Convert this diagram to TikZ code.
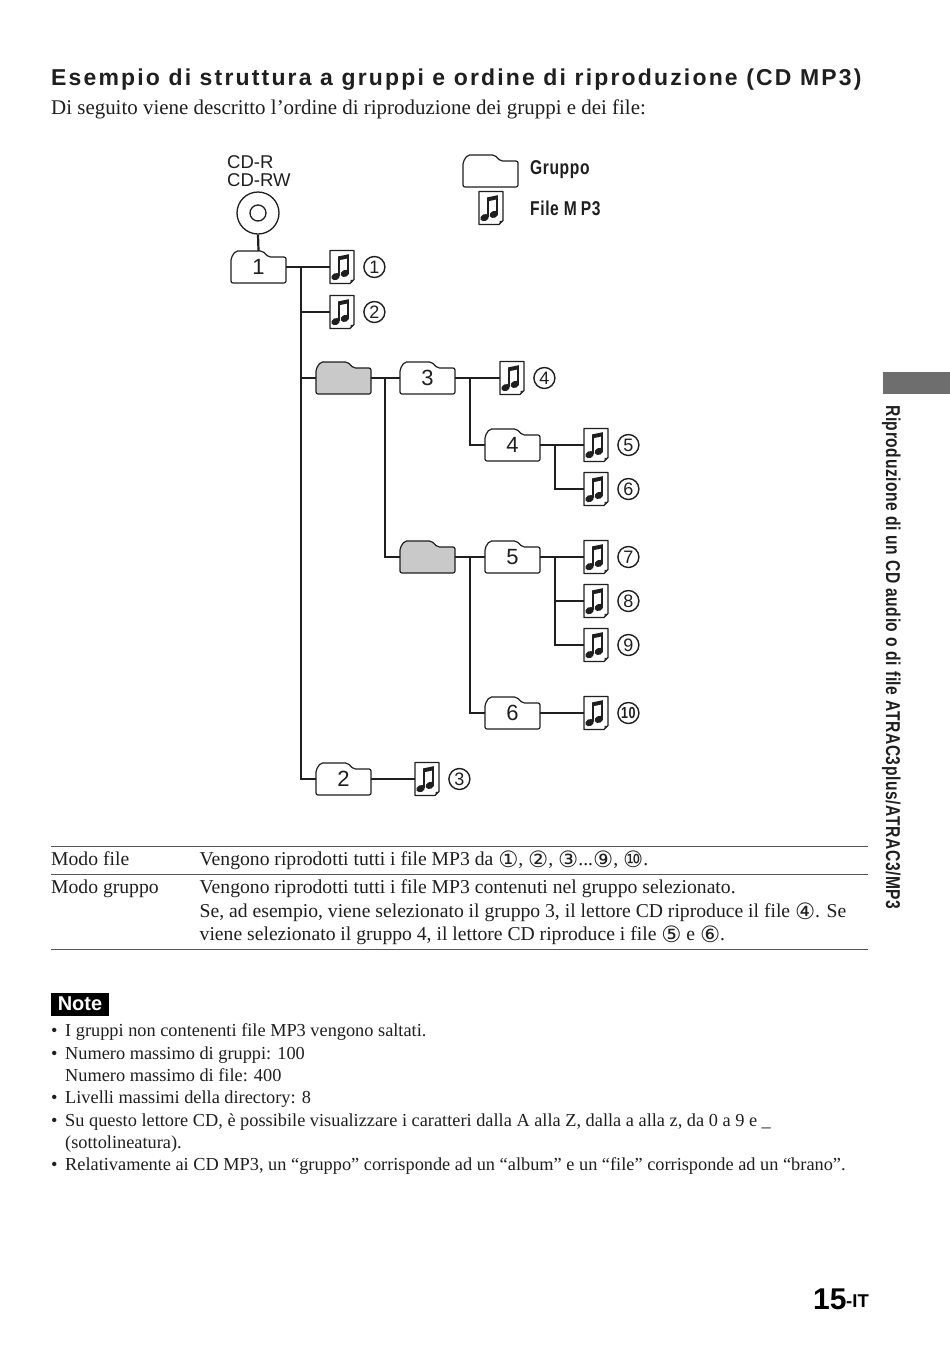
\documentclass[tikz,border=0pt]{standalone}
\usepackage{fontspec}
\setmainfont{Liberation Serif}
\setsansfont{Liberation Sans}
\newfontfamily\circfont{DejaVu Sans}
\newfontfamily\headfont[LetterSpace=9.5]{Liberation Sans Bold}
\newfontfamily\narrowfont[FakeStretch=0.78,LetterSpace=3]{Liberation Sans Bold}
\usetikzlibrary{positioning,calc}
\definecolor{Ink}{HTML}{1F1F1F}
\definecolor{FolderGrey}{HTML}{C9C9C9}
\definecolor{TabGrey}{HTML}{6E6E6E}
\definecolor{RuleGrey}{HTML}{555555}
\newcommand{\Cn}[1]{{\circfont\fontsize{22.5}{24}\selectfont\raisebox{-2.4pt}{#1}}}
\tikzset{
  wire/.style={draw=Ink,line width=2.2pt},
  folderbox/.style={inner sep=0pt,minimum width=55pt,minimum height=32pt,font=\fontsize{22}{24}\selectfont\sffamily,text=Ink},
  filebox/.style={inner sep=0pt,minimum width=24pt,minimum height=33pt},
  numbadge/.style={circle,draw=Ink,line width=1.4pt,inner sep=0pt,minimum size=21pt,font=\fontsize{18}{20}\selectfont\sffamily,text=Ink},
  bodytext/.style={anchor=base west,inner sep=0pt,font=\fontsize{19.65}{24}\selectfont,text=Ink},
  notetext/.style={anchor=base west,inner sep=0pt,font=\fontsize{18.32}{22}\selectfont,text=Ink},
  legendtext/.style={anchor=base west,inner sep=0pt,font=\fontsize{20}{24}\selectfont\narrowfont,text=Ink},
  tablerule/.style={draw=RuleGrey,line width=1pt}
}
\newcommand{\FolderIcon}[5]{%
  \draw[Ink,line width=1.2pt,fill=#5,rounded corners=2pt] (#2-27.5,#3+16) -- (#2-27.5,#3-9) -- (#2-23,#3-16) -- (#2+4,#3-16) -- (#2+10,#3-10) -- (#2+27.5,#3-10) -- (#2+27.5,#3+16) -- cycle;%
  \node[folderbox] (#1) at (#2,#3) {#4};%
}
\newcommand{\FileIcon}[3]{%
  \node[filebox] (#1) at (#2,#3) {};%
  \begin{scope}[shift={(#2,#3)}]
    \draw[Ink,line width=1.3pt,fill=white,line join=round] (-12,-16.5) -- (12,-16.5) -- (12,12.5) -- (8,16.5) -- (-12,16.5) -- cycle;
    \fill[Ink] (-3.8,-10.6) -- (6.8,-12.8) -- (6.8,-8.8) -- (-3.8,-6.6) -- cycle;
    \draw[Ink,line width=1.4pt] (-3.2,-9) -- (-3.2,8.6);
    \draw[Ink,line width=1.4pt] (6.1,-11) -- (6.1,5.4);
    \fill[Ink] (-6.4,9.6) ellipse [x radius=4.4,y radius=3.4,rotate=25];
    \fill[Ink] (2.9,6.4) ellipse [x radius=4.4,y radius=3.4,rotate=25];
    \fill[Ink] (8.5,15.5) -- (11,13) -- (8.5,12.8) -- cycle;
  \end{scope}%
}
\begin{document}
\begin{tikzpicture}[x=1pt,y=-1pt]
\useasboundingbox (0,0) rectangle (950,1350);
\fill[white] (0,0) rectangle (950,1350);

% heading
\node[anchor=base west,inner sep=0pt,font=\fontsize{22.97}{26}\selectfont\headfont,text=Ink] (heading) at (51,85) {Esempio di struttura a gruppi e ordine di riproduzione (CD MP3)};
\node[anchor=base west,inner sep=0pt,font=\fontsize{20.93}{24}\selectfont,text=Ink] (intro) at (51,114) {Di seguito viene descritto l’ordine di riproduzione dei gruppi e dei file:};

% legend
\FolderIcon{legendfolder}{490.5}{171}{}{white}
\FileIcon{legendfile}{491}{208}
\node[legendtext] (legendgroup) at (530,174) {Gruppo};
\node[legendtext] (legendmp) at (530,215) {File M\kern4pt P3};

% disc
\node[circle,draw=Ink,line width=1.3pt,minimum size=42pt,inner sep=0pt] (disc) at (258,213) {};
\node[circle,draw=Ink,line width=1.3pt,minimum size=16pt,inner sep=0pt] (hole) at (258,213) {};
\node[anchor=base west,inner sep=0pt,font=\fontsize{18.5}{19}\selectfont\sffamily,text=Ink] (cdr) at (227,168) {CD-R};
\node[anchor=base west,inner sep=0pt,font=\fontsize{18.5}{19}\selectfont\sffamily,text=Ink] (cdrw) at (227,186) {CD-RW};

% folders
\FolderIcon{fold1}{258.5}{267}{1}{white}
\FolderIcon{greyA}{343.5}{378}{}{FolderGrey}
\FolderIcon{fold2}{343.5}{779}{2}{white}
\FolderIcon{fold3}{427.5}{378}{3}{white}
\FolderIcon{greyB}{427.5}{557}{}{FolderGrey}
\FolderIcon{fold4}{512.5}{445}{4}{white}
\FolderIcon{fold5}{512.5}{557}{5}{white}
\FolderIcon{fold6}{512.5}{713}{6}{white}

% files and their numbers
\foreach \n/\x/\y in {1/342/267,2/342/312,4/512/378,5/596/445,6/596/489,7/596/557,8/596/601,9/596/645,3/427/779} {
  \FileIcon{file\n}{\x}{\y}
  \node[numbadge,right=9pt of file\n] (badge\n) {\n};
}
\FileIcon{file10}{596}{713}
\node[numbadge,right=9pt of file10,font=\fontsize{16}{18}\selectfont\narrowfont] (badge10) {10};

% connectors
\coordinate (busA) at (301,267);
\coordinate (busB) at (385,378);
\coordinate (busC) at (470,378);
\coordinate (busD) at (555,445);
\coordinate (busE) at (470,557);
\coordinate (busF) at (555,557);
\draw[wire] (disc.south) -- (fold1.north);
\draw[wire] (fold1.east) -- (file1.west);
\draw[wire] (busA) |- (file2.west);
\draw[wire] (busA) |- (greyA.west);
\draw[wire] (busA) |- (fold2.west);
\draw[wire] (fold2.east) -- (file3.west);
\draw[wire] (greyA.east) -- (fold3.west);
\draw[wire] (busB) |- (greyB.west);
\draw[wire] (fold3.east) -- (file4.west);
\draw[wire] (busC) |- (fold4.west);
\draw[wire] (fold4.east) -- (file5.west);
\draw[wire] (busD) |- (file6.west);
\draw[wire] (greyB.east) -- (fold5.west);
\draw[wire] (busE) |- (fold6.west);
\draw[wire] (fold5.east) -- (file7.west);
\draw[wire] (busF) |- (file8.west);
\draw[wire] (busF) |- (file9.west);
\draw[wire] (fold6.east) -- (file10.west);

% table
\draw[tablerule] (51,846) -- (868,846);
\draw[tablerule] (51,874) -- (868,874);
\draw[tablerule] (51,949) -- (868,949);
\node[bodytext] (modefile) at (51,865) {Modo file};
\node[bodytext] (modegroup) at (51,893) {Modo gruppo};
\node[bodytext] (rowa) at (199.5,865) {Vengono riprodotti tutti i file MP3 da \Cn{①}, \Cn{②}, \Cn{③}...\Cn{⑨}, \Cn{⑩}.};
\node[bodytext] (rowb) at (199.5,893) {Vengono riprodotti tutti i file MP3 contenuti nel gruppo selezionato.};
\node[bodytext] (rowc) at (199.5,917) {Se, ad esempio, viene selezionato il gruppo 3, il lettore CD riproduce il file \Cn{④}. Se};
\node[bodytext] (rowd) at (199.5,940) {viene selezionato il gruppo 4, il lettore CD riproduce i file \Cn{⑤} e \Cn{⑥}.};

% notes
\node[fill=black,text=white,inner sep=0pt,minimum width=58pt,minimum height=23pt,font=\fontsize{20}{22}\selectfont\sffamily\bfseries] (notetag) at (80,1004.5) {\raisebox{0.8pt}{Note}};
\foreach \n/\y/\s in {a/1036/{I gruppi non contenenti file MP3 vengono saltati.},b/1059/{Numero massimo di gruppi: 100},c/1081/{Numero massimo di file: 400},d/1103/{Livelli massimi della directory: 8},e/1126/{Su questo lettore CD, è possibile visualizzare i caratteri dalla A alla Z, dalla a alla z, da 0 a 9 e \_},f/1148/{(sottolineatura).},g/1170/{Relativamente ai CD MP3, un “gruppo” corrisponde ad un “album” e un “file” corrisponde ad un “brano”.}} {
  \node[notetext] (note\n) at (65,\y) {\s};
}
\foreach \n/\y in {a/1036,b/1059,d/1103,e/1126,g/1170} {
  \node[notetext] (dot\n) at (51,\y) {•};
}

% side tab
\fill[TabGrey] (883,372) rectangle (950,394);
\node[rotate=-90,anchor=base west,inner sep=0pt,font=\fontsize{20}{20}\selectfont\narrowfont,text=Ink] (sidetext) at (886,405) {Riproduzione di un CD audio o di file ATRAC3plus/ATRAC3/MP3};

% page number
\node[anchor=base west,inner sep=0pt,font=\fontsize{30}{34}\selectfont\sffamily\bfseries,text=black] (pagenum) at (813,1309) {15};
\node[anchor=base west,inner sep=0pt,font=\fontsize{18.5}{22}\selectfont\sffamily\bfseries,text=black] (pagetag) at (846,1307) {-IT};
\end{tikzpicture}
\end{document}
